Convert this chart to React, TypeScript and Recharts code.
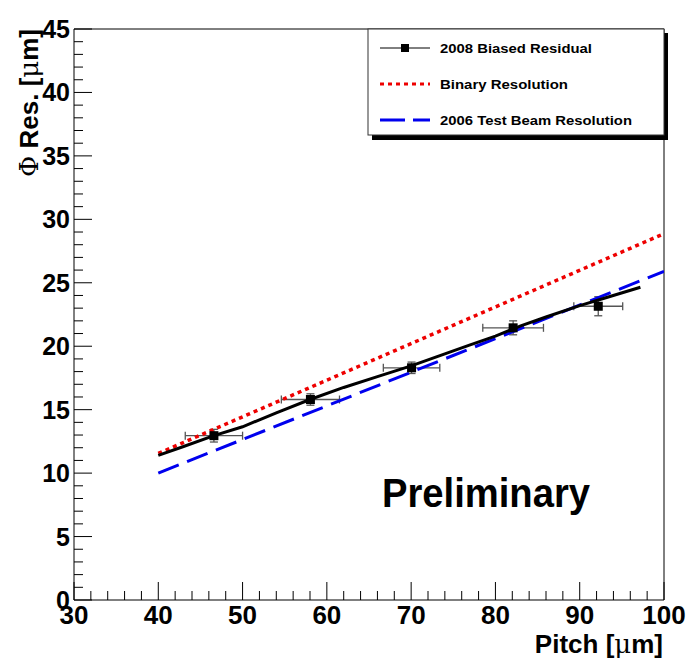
import React from 'react';
import { ComposedChart, Line, Scatter, XAxis, YAxis, ErrorBar, ReferenceLine } from 'recharts';

// Measured points: 2008 biased residual
const pointPitch = [46.6, 58.05, 70.05, 82.1, 92.2];
const pointRes = [12.95, 15.8, 18.3, 21.45, 23.15];
const pointPitchErr = [3.4, 3.45, 3.35, 3.6, 2.9];
const pointResErr = [0.5, 0.45, 0.45, 0.55, 0.75];

// Fitted curve through residuals
const fitPitch = [40, 43, 46.6, 50, 54, 58, 62, 66, 70, 74, 77, 80, 83, 86, 90, 93, 97.2];
const fitRes = [11.4, 12.1, 12.95, 13.65, 14.75, 15.8, 16.75, 17.6, 18.45, 19.4, 20.1, 20.8, 21.6, 22.3, 23.2, 23.8, 24.65];

// Binary resolution
const binPitch = [40, 100];
const binRes = [11.55, 28.87];

// 2006 test beam resolution
const tbPitch = [40, 100];
const tbRes = [10.0, 25.9];

const xTicks = [30, 32, 34, 36, 38, 40, 42, 44, 46, 48, 50, 52, 54, 56, 58, 60, 62, 64, 66, 68, 70, 72, 74, 76, 78, 80, 82, 84, 86, 88, 90, 92, 94, 96, 98, 100];
const yTicks = [0, 1, 2, 3, 4, 5, 6, 7, 8, 9, 10, 11, 12, 13, 14, 15, 16, 17, 18, 19, 20, 21, 22, 23, 24, 25, 26, 27, 28, 29, 30, 31, 32, 33, 34, 35, 36, 37, 38, 39, 40, 41, 42, 43, 44, 45];

const points = pointPitch.map((x, i) => ({ x, y: pointRes[i], ex: pointPitchErr[i], ey: pointResErr[i] }));
const fit = fitPitch.map((x, i) => ({ x, y: fitRes[i] }));
const bin = binPitch.map((x, i) => ({ x, y: binRes[i] }));
const tb = tbPitch.map((x, i) => ({ x, y: tbRes[i] }));

const FONT = '"Liberation Sans", Arial, Helvetica, sans-serif';
const SYM = '"DejaVu Serif", serif';

const YTick = (props: any) => {
  const { x, y, payload } = props;
  const v = payload.value as number;
  const major = v % 5 === 0;
  return (
    <g>
      <line x1={x} x2={x + (major ? 18 : 9)} y1={y} y2={y} stroke="#000" strokeWidth={1} />
      {major && (
        <text x={x - 4} y={y + 9} textAnchor="end" fontFamily={FONT} fontWeight="bold" fontSize={25} fill="#000">
          {v}
        </text>
      )}
    </g>
  );
};

const XTick = (props: any) => {
  const { x, y, payload } = props;
  const v = payload.value as number;
  const major = v % 10 === 0;
  return (
    <g>
      <line x1={x} x2={x} y1={y} y2={y - (major ? 18 : 9)} stroke="#000" strokeWidth={1} />
      {major && (
        <text x={x} y={y + 24} textAnchor="middle" fontFamily={FONT} fontWeight="bold" fontSize={26} fill="#000">
          {v}
        </text>
      )}
    </g>
  );
};

const Square = (props: any) => {
  const { cx, cy } = props;
  if (cx == null || cy == null) return null;
  return <rect x={cx - 4.5} y={cy - 4.5} width={9} height={9} fill="#000" />;
};

export default function App() {
  return (
    <div style={{ position: 'absolute', left: 0, top: 0, width: 689, height: 672, background: '#fff' }}>
      <ComposedChart
        width={689}
        height={672}
        margin={{ top: 29, right: 25, bottom: 32, left: 14 }}
      >
        <XAxis
          type="number"
          dataKey="x"
          domain={[30, 100]}
          ticks={xTicks}
          interval={0}
          allowDataOverflow
          tick={<XTick />}
          tickLine={false}
          tickSize={0}
          tickMargin={0}
          height={40}
          axisLine={{ stroke: '#000', strokeWidth: 1 }}
        />
        <YAxis
          type="number"
          dataKey="y"
          domain={[0, 45]}
          ticks={yTicks}
          interval={0}
          allowDataOverflow
          tick={<YTick />}
          tickLine={false}
          tickSize={0}
          tickMargin={0}
          width={60}
          axisLine={{ stroke: '#000', strokeWidth: 1 }}
        />
        <ReferenceLine y={45} stroke="#000" strokeWidth={1} ifOverflow="extendDomain" />
        <ReferenceLine x={100} stroke="#000" strokeWidth={1} ifOverflow="extendDomain" />
        <Scatter data={points} dataKey="y" shape={<Square />} isAnimationActive={false}>
          <ErrorBar dataKey="ex" direction="x" width={4} stroke="#555" strokeWidth={1.3} />
          <ErrorBar dataKey="ey" direction="y" width={4} stroke="#555" strokeWidth={1.3} />
        </Scatter>
        <Line data={bin} dataKey="y" type="linear" stroke="#ee0000" strokeWidth={3.5} strokeDasharray="4 4" dot={false} isAnimationActive={false} />
        <Line data={tb} dataKey="y" type="linear" stroke="#0000ee" strokeWidth={3} strokeDasharray="22 9" dot={false} isAnimationActive={false} />
        <Line data={fit} dataKey="y" type="linear" stroke="#000" strokeWidth={3} dot={false} isAnimationActive={false} />
      </ComposedChart>
      <svg width={689} height={672} style={{ position: 'absolute', left: 0, top: 0, pointerEvents: 'none' }}>
        {/* Legend */}
        <rect x={372} y={33} width={296} height={107} fill="#000" />
        <rect x={368} y={29} width={296} height={106} fill="#fff" stroke="#333" strokeWidth={1} />
        <line x1={380} x2={430} y1={48} y2={48} stroke="#000" strokeWidth={1} />
        <rect x={401} y={44} width={8} height={8} fill="#000" />
        <text x={440} y={53} fontFamily={FONT} fontWeight="bold" fontSize={13.5} fill="#000" textLength={152} lengthAdjust="spacingAndGlyphs">2008 Biased Residual</text>
        <line x1={380} x2={430} y1={84} y2={84} stroke="#ee0000" strokeWidth={3} strokeDasharray="4 4" />
        <text x={440} y={89} fontFamily={FONT} fontWeight="bold" fontSize={13.5} fill="#000" textLength={128} lengthAdjust="spacingAndGlyphs">Binary Resolution</text>
        <line x1={380} x2={430} y1={120} y2={120} stroke="#0000ee" strokeWidth={3} strokeDasharray="25 8" />
        <text x={440} y={125} fontFamily={FONT} fontWeight="bold" fontSize={13.5} fill="#000" textLength={192} lengthAdjust="spacingAndGlyphs">2006 Test Beam Resolution</text>
        {/* Preliminary */}
        <text x={382} y={507} fontFamily={FONT} fontWeight="bold" fontSize={40} fill="#000" textLength={208} lengthAdjust="spacingAndGlyphs">Preliminary</text>
        {/* Axis titles */}
        <text x={663} y={653} textAnchor="end" fontFamily={FONT} fontWeight="bold" fontSize={26} fill="#000">
          Pitch [<tspan fontFamily={SYM} fontWeight="normal">μ</tspan>m]
        </text>
        <text transform="translate(38,29) rotate(-90)" textAnchor="end" fontFamily={FONT} fontWeight="bold" fontSize={26} fill="#000" textLength={148} lengthAdjust="spacingAndGlyphs">
          <tspan fontFamily={SYM} fontWeight="normal">Φ</tspan> Res. [<tspan fontFamily={SYM} fontWeight="normal">μ</tspan>m]
        </text>
      </svg>
    </div>
  );
}
